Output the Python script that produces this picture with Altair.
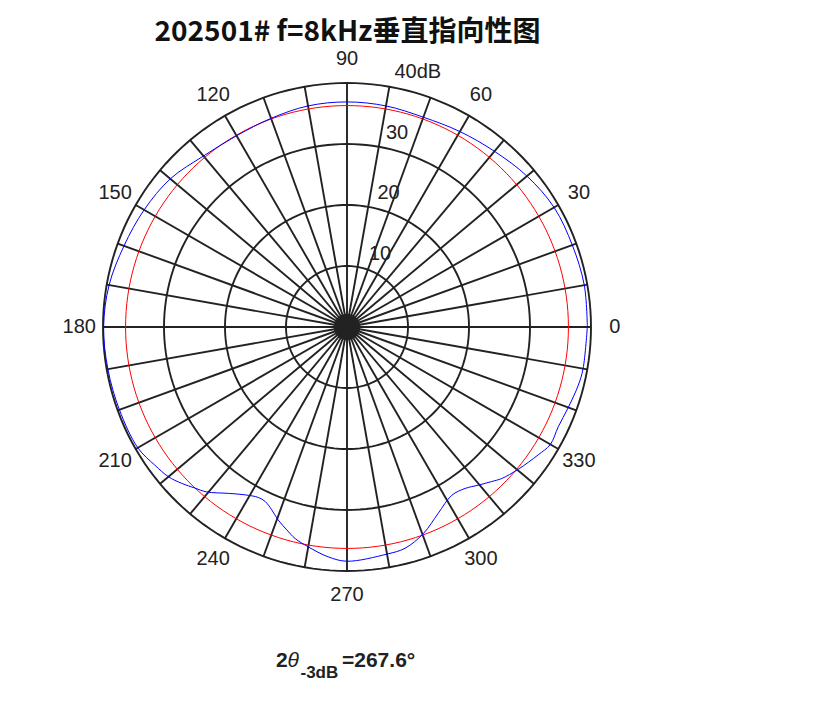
import altair as alt
import numpy as np
import pandas as pd

# ---------------- data ----------------
# measured directivity (dB) at given angles (deg)
angles_deg = [0, 10, 20, 30, 40, 50, 60, 70, 80, 90, 100, 110, 120, 130, 140, 150, 160, 170, 180, 190, 200, 210,
              215.7, 220, 223.4, 226.7, 229.6, 234.5, 238.7, 242.5, 244.9, 247.6, 250.4, 253.5, 256.2, 260, 265.3, 270,
              280, 284.7, 290.3, 296.1, 301.9, 306.2, 309.7, 313.1, 315.6, 320.3, 326.2, 330, 334.7, 340, 345.9, 350, 360]
levels_db = [39.4, 39.5, 39.3, 39.2, 38.5, 37.6, 37.0, 36.6, 36.8, 36.9, 36.8, 36.4, 36.2, 36.6, 37.8, 38.4, 38.9, 39.6, 39.9, 39.8, 39.7, 39.6,
             38.8, 38.2, 37.3, 36.3, 35.5, 33.5, 32.2, 31.5, 31.6, 32.4, 33.6, 34.7, 35.7, 36.6, 37.8, 38.4,
             37.8, 37.5, 36.1, 34.0, 32.5, 32.8, 33.7, 34.7, 35.5, 36.5, 37.7, 38.5, 38.3, 38.6, 39.1, 39.3, 39.4]
minus3_db = 36.3                       # -3 dB reference circle
ring_values = [10, 20, 30, 40]
ring_labels = ["10", "20", "30", "40dB"]
spoke_angles = list(range(0, 360, 10))
angle_ticks = [0, 30, 60, 90, 120, 150, 180, 210, 240, 270, 300, 330]
angle_tick_labels = [str(a) for a in angle_ticks]
title_text = "202501# f=8kHz垂直指向性图"

# ---------------- layout ----------------
PAD_TOP = 14
W, H = 800, 666
CX, CY = 339.0, 319.0 - PAD_TOP
K = 6.1  # px per dB
xdom = [-CX / K, (W - CX) / K]
ydom = [-(H - CY) / K, CY / K]
RMAX = 40
LABEL_R = 43.9


def pol(r, a):
    a = np.deg2rad(np.asarray(a, dtype=float))
    return np.asarray(r) * np.cos(a), np.asarray(r) * np.sin(a)


xs = alt.Scale(domain=xdom, nice=False, zero=False)
ys = alt.Scale(domain=ydom, nice=False, zero=False)
X = lambda f="x": alt.X(f"{f}:Q", scale=xs, axis=None)
Y = lambda f="y": alt.Y(f"{f}:Q", scale=ys, axis=None)

GRID = "#222222"

# grid circles
circ_a = np.arange(0, 362, 2)
rows = []
for rv in ring_values:
    x, y = pol(rv, circ_a)
    for i, (xx, yy) in enumerate(zip(x, y)):
        rows.append({"ring": rv, "i": i, "x": xx, "y": yy})
rings_df = pd.DataFrame(rows)
rings = alt.Chart(rings_df).mark_line(color=GRID, strokeWidth=1.9).encode(
    x=X(), y=Y(), detail="ring:N", order="i:Q")

# spokes
sx, sy = pol(RMAX, spoke_angles)
spokes_df = pd.DataFrame({"x0": 0.0, "y0": 0.0, "x": sx, "y": sy})
spokes = alt.Chart(spokes_df).mark_rule(color=GRID, strokeWidth=1.9).encode(
    x=X("x0"), y=Y("y0"), x2="x:Q", y2="y:Q")

center = alt.Chart(pd.DataFrame({"x": [0.0], "y": [0.0]})).mark_circle(
    color=GRID, opacity=1, size=700).encode(x=X(), y=Y())

# -3 dB red circle
rx, ry = pol(minus3_db, circ_a)
red_df = pd.DataFrame({"i": range(len(rx)), "x": rx, "y": ry})
red = alt.Chart(red_df).mark_line(color="#ff0000", strokeWidth=1).encode(
    x=X(), y=Y(), order="i:Q")

# measured blue curve
bx, by = pol(levels_db, angles_deg)
blue_df = pd.DataFrame({"i": range(len(bx)), "x": bx, "y": by})
blue = alt.Chart(blue_df).mark_line(color="#0000ff", strokeWidth=1, interpolate="catmull-rom").encode(
    x=X(), y=Y(), order="i:Q")

# angle labels
lx, ly = pol(LABEL_R, angle_ticks)
alab_df = pd.DataFrame({"x": lx, "y": ly, "t": angle_tick_labels})
alab = alt.Chart(alab_df).mark_text(font="Liberation Sans", fontSize=20, color=GRID,
                                    align="center", baseline="middle").encode(
    x=X(), y=Y(), text="t:N")

# radial labels (MATLAB style at 82 deg)
rlx, rly = pol(np.array(ring_values) + 0.5, [82] * len(ring_values))
rlab_df = pd.DataFrame({"x": rlx, "y": rly, "t": ring_labels})
rlab = alt.Chart(rlab_df).mark_text(font="Liberation Sans", fontSize=20, color=GRID,
                                    align="left", baseline="bottom", dx=13, dy=0).encode(
    x=X(), y=Y(), text="t:N")

one = alt.Data(values=[{"k": 1}])
title = alt.Chart(one).mark_text(text=title_text, font="Noto Sans CJK SC", fontWeight="bold",
                                 fontSize=28, color="#111111", align="center",
                                 baseline="alphabetic").encode(x=alt.value(CX + 0.5), y=alt.value(18.6))

ann_font = "Liberation Sans"
by0 = 659 - PAD_TOP
a1 = alt.Chart(one).mark_text(text="2", font=ann_font, fontWeight="bold", fontSize=21, color="#222222",
                              align="left", baseline="alphabetic").encode(x=alt.value(268), y=alt.value(by0))
a2 = alt.Chart(one).mark_text(text="θ", font=ann_font, fontStyle="italic", fontSize=21, color="#222222",
                              align="left", baseline="alphabetic").encode(x=alt.value(279.5), y=alt.value(by0))
a3 = alt.Chart(one).mark_text(text="-3dB", font=ann_font, fontWeight="bold", fontSize=17, color="#222222",
                              align="left", baseline="alphabetic").encode(x=alt.value(292.5), y=alt.value(by0 + 11))
a4 = alt.Chart(one).mark_text(text="=267.6°", font=ann_font, fontWeight="bold", fontSize=21, color="#222222",
                              align="left", baseline="alphabetic").encode(x=alt.value(334), y=alt.value(by0))

chart = alt.layer(rings, spokes, center, red, blue, alab, rlab, title, a1, a2, a3, a4).properties(
    width=W, height=H, autosize=alt.AutoSizeParams(type="none"),
    padding={"left": 0, "top": PAD_TOP, "right": 0, "bottom": 0},
).configure_view(stroke=None)

chart.save("out.html", embed_options={"renderer": "svg", "actions": False})
